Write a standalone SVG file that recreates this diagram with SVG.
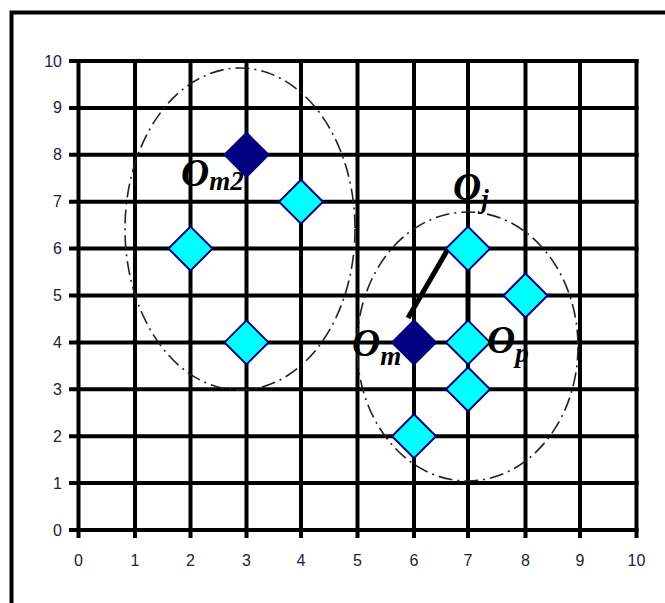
<svg xmlns="http://www.w3.org/2000/svg" xmlns:xlink="http://www.w3.org/1999/xlink" width="665" height="603" viewBox="0 0 665 603">
<style>
.border{fill:none;stroke:#000;stroke-width:4}
.grid line{stroke:#000;stroke-width:4}
.ax{font-family:"Liberation Sans",Arial,sans-serif;font-size:16px;fill:#202040}
.ay{text-anchor:end}
.axx{text-anchor:middle}
.ell{fill:none;stroke:#222;stroke-width:1.6;stroke-dasharray:14 5 2 5}
.conn{stroke:#000;stroke-width:5;stroke-linecap:butt}
.cy{fill:#00FFFF;stroke:#000080;stroke-width:2}
.dk{fill:#000080;stroke:#000080;stroke-width:2}
.lbl{font-family:"Liberation Serif","Times New Roman",serif;font-weight:bold;font-style:italic;font-size:39px;fill:#000}
.sub{font-size:27px}
</style>
<defs>
<polygon id="dia" points="0,-22 22,0 0,22 -22,0"/>
</defs>
<path class="border" d="M11.5,603 V12.5 H665"/>
<g class="grid">
<line x1="69" y1="61" x2="638.5" y2="61"/>
<line x1="69" y1="107.9" x2="638.5" y2="107.9"/>
<line x1="69" y1="154.8" x2="638.5" y2="154.8"/>
<line x1="69" y1="201.7" x2="638.5" y2="201.7"/>
<line x1="69" y1="248.6" x2="638.5" y2="248.6"/>
<line x1="69" y1="295.5" x2="638.5" y2="295.5"/>
<line x1="69" y1="342.4" x2="638.5" y2="342.4"/>
<line x1="69" y1="389.3" x2="638.5" y2="389.3"/>
<line x1="69" y1="436.2" x2="638.5" y2="436.2"/>
<line x1="69" y1="483.1" x2="638.5" y2="483.1"/>
<line x1="69" y1="530" x2="638.5" y2="530"/>
<line x1="78.5" y1="59" x2="78.5" y2="538"/>
<line x1="135" y1="59" x2="135" y2="538"/>
<line x1="190.5" y1="59" x2="190.5" y2="538"/>
<line x1="246.5" y1="59" x2="246.5" y2="538"/>
<line x1="301" y1="59" x2="301" y2="538"/>
<line x1="357.5" y1="59" x2="357.5" y2="538"/>
<line x1="414" y1="59" x2="414" y2="538"/>
<line x1="468" y1="59" x2="468" y2="538"/>
<line x1="525.5" y1="59" x2="525.5" y2="538"/>
<line x1="580" y1="59" x2="580" y2="538"/>
<line x1="636.5" y1="59" x2="636.5" y2="538"/>
</g>
<g class="ax ay">
<text x="62" y="66.5">10</text>
<text x="62" y="113.4">9</text>
<text x="62" y="160.3">8</text>
<text x="62" y="207.2">7</text>
<text x="62" y="254.1">6</text>
<text x="62" y="301">5</text>
<text x="62" y="347.9">4</text>
<text x="62" y="394.8">3</text>
<text x="62" y="441.7">2</text>
<text x="62" y="488.6">1</text>
<text x="62" y="535.5">0</text>
</g>
<g class="ax axx">
<text x="78.5" y="566">0</text>
<text x="135" y="566">1</text>
<text x="190.5" y="566">2</text>
<text x="246.5" y="566">3</text>
<text x="301" y="566">4</text>
<text x="357.5" y="566">5</text>
<text x="414" y="566">6</text>
<text x="468" y="566">7</text>
<text x="525.5" y="566">8</text>
<text x="580" y="566">9</text>
<text x="636.5" y="566">10</text>
</g>
<g id="clusters">
<ellipse id="cluster-left" class="ell" cx="240" cy="229" rx="115" ry="161"/>
<ellipse id="cluster-right" class="ell" cx="467.5" cy="346.5" rx="110.5" ry="134.5"/>
</g>
<g id="connectors">
<line class="conn" x1="408" y1="318" x2="448" y2="249"/>
<line class="conn" x1="468" y1="268" x2="468" y2="322"/>
</g>
<g id="n-2-6"><use xlink:href="#dia" class="cy" transform="translate(190.5,248.6)"/></g>
<g id="n-3-4"><use xlink:href="#dia" class="cy" transform="translate(246.5,342.4)"/></g>
<g id="n-4-7"><use xlink:href="#dia" class="cy" transform="translate(301,201.7)"/></g>
<g id="n-7-6"><use xlink:href="#dia" class="cy" transform="translate(468,248.6)"/></g>
<g id="n-8-5"><use xlink:href="#dia" class="cy" transform="translate(525.5,295.5)"/></g>
<g id="n-7-4"><use xlink:href="#dia" class="cy" transform="translate(468,342.4)"/></g>
<g id="n-7-3"><use xlink:href="#dia" class="cy" transform="translate(468,389.3)"/></g>
<g id="n-6-2"><use xlink:href="#dia" class="cy" transform="translate(414,436.2)"/></g>
<g id="n-3-8"><use xlink:href="#dia" class="dk" transform="translate(246.5,154.8)"/></g>
<g id="n-6-4"><use xlink:href="#dia" class="dk" transform="translate(414,342.4)"/></g>
<g id="labels">
<text class="lbl" x="181" y="186">O<tspan class="sub" y="190">m2</tspan></text>
<text class="lbl" x="453" y="200">O<tspan class="sub" y="208">j</tspan></text>
<text class="lbl" x="352" y="356">O<tspan class="sub" y="365">m</tspan></text>
<text class="lbl" x="487" y="353">O<tspan class="sub" y="362">p</tspan></text>
</g>
</svg>
